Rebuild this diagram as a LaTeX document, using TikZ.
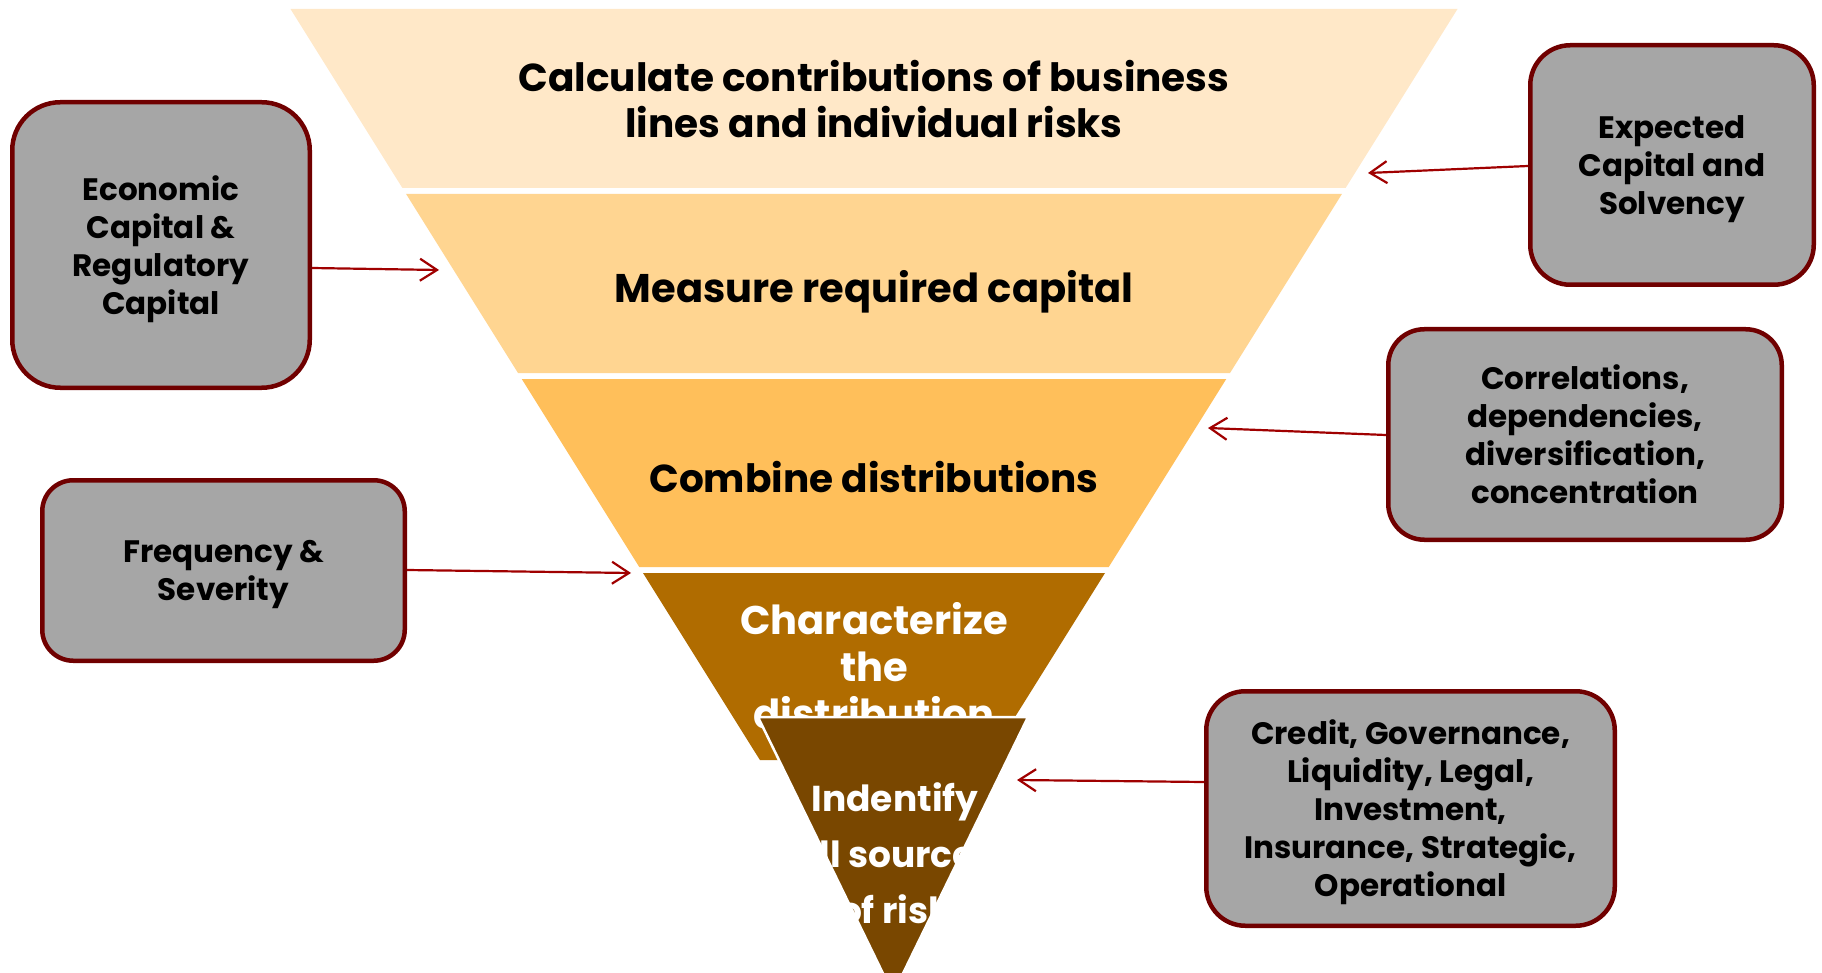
\documentclass[tikz,border=0pt]{standalone}
\usepackage{fontspec}
\setmainfont{Poppins}
\usetikzlibrary{arrows.meta}
\definecolor{bandA}{RGB}{255,232,200}
\definecolor{bandB}{RGB}{255,213,145}
\definecolor{bandC}{RGB}{255,191,90}
\definecolor{bandD}{RGB}{176,108,0}
\definecolor{bandE}{RGB}{121,71,0}
\definecolor{boxgrey}{RGB}{166,166,166}
\definecolor{boxrim}{RGB}{112,0,0}
\definecolor{linkred}{RGB}{160,0,0}

\begin{document}
\begin{tikzpicture}[x=1pt,y=-1pt,
  inputbox/.style={draw=boxrim, line width=4.5pt, fill=boxgrey, inner sep=0pt,
    align=center, text=black, text depth=0pt,
    font=\bfseries\fontsize{31}{38}\selectfont},
  feed/.style={draw=linkred, line width=2.2pt,
    -{Straight Barb[length=17pt,width=22pt,line width=2.2pt]}},
  % multi-line text: the base anchor sits on the last line
  bandtext/.style={anchor=base, align=center, inner sep=0pt,
    font=\bfseries\fontsize{40}{46}\selectfont},
]
\clip (0,0) rectangle (1822,973);
\fill[white] (0,0) rectangle (1822,973);

% funnel bands, widest at the top
\fill[bandA] (290.5,9) -- (1457.5,9) -- (1345.6,188) -- (402.4,188) -- cycle;
\fill[bandB] (406.1,194) -- (1341.9,194) -- (1230,373) -- (518,373) -- cycle;
\fill[bandC] (521.75,379) -- (1226.25,379) -- (1108.75,567) -- (639.25,567) -- cycle;
\fill[bandD] (643,573) -- (1105,573) -- (988.1,760) -- (759.9,760) -- cycle;

\node[bandtext, font=\bfseries\fontsize{39}{46}\selectfont] (calc) at (874,137.5)
  {Calculate contributions of business\\lines and individual risks};
\node[bandtext] (meas) at (874,303) {Measure required capital};
\node[bandtext, font=\bfseries\fontsize{39}{46}\selectfont] (comb) at (874,492) {Combine distributions};
\node[bandtext, text=white, font=\bfseries\fontsize{40}{47}\selectfont] (charz) at (874,728)
  {Characterize\\the\\distribution};

% narrow tip triangle laid over the fourth band
\fill[bandE, draw=white, line width=2.5pt] (758,717) -- (1028,717) -- (893,994) -- cycle;
\begin{scope}
  \clip (758,717) -- (1028,717) -- (893,994) -- cycle;
  \node[bandtext, text=white, font=\bfseries\fontsize{36}{56}\selectfont] (ident) at (895,923)
    {Indentify\\all sources\\of risk};
\end{scope}

% input boxes
\node[inputbox, rounded corners=48pt, minimum width=297.5pt, minimum height=285.5pt]
  (econ) at (161,245) {Economic\\Capital \&\\Regulatory\\Capital};
\node[inputbox, rounded corners=40pt, minimum width=283.5pt, minimum height=239.5pt]
  (expc) at (1672,165) {Expected\\Capital and\\Solvency};
\node[inputbox, rounded corners=36pt, minimum width=393.5pt, minimum height=210.5pt]
  (corr) at (1585,434.5) {Correlations,\\dependencies,\\diversification,\\concentration};
\node[inputbox, rounded corners=31pt, minimum width=362.5pt, minimum height=180.5pt]
  (freq) at (223.5,570.5) {Frequency \&\\Severity};
\node[inputbox, rounded corners=39pt, minimum width=408.5pt, minimum height=234.5pt]
  (risk) at (1410.5,808.5) {Credit, Governance,\\Liquidity, Legal,\\Investment,\\Insurance, Strategic,\\Operational};

% arrow ends at the funnel
\coordinate (tEcon) at (439,270);
\coordinate (tExpc) at (1368,173);
\coordinate (tCorr) at (1208,428);
\coordinate (tFreq) at (631,573);
\coordinate (tRisk) at (1017,780);

\draw[feed] (econ.east |- 0,268) -- (tEcon);
\draw[feed] (expc.west |- 0,166) -- (tExpc);
\draw[feed] (corr.west |- 0,435) -- (tCorr);
\draw[feed] (freq.east |- 0,570) -- (tFreq);
\draw[feed] (risk.west |- 0,782) -- (tRisk);
\end{tikzpicture}
\end{document}
